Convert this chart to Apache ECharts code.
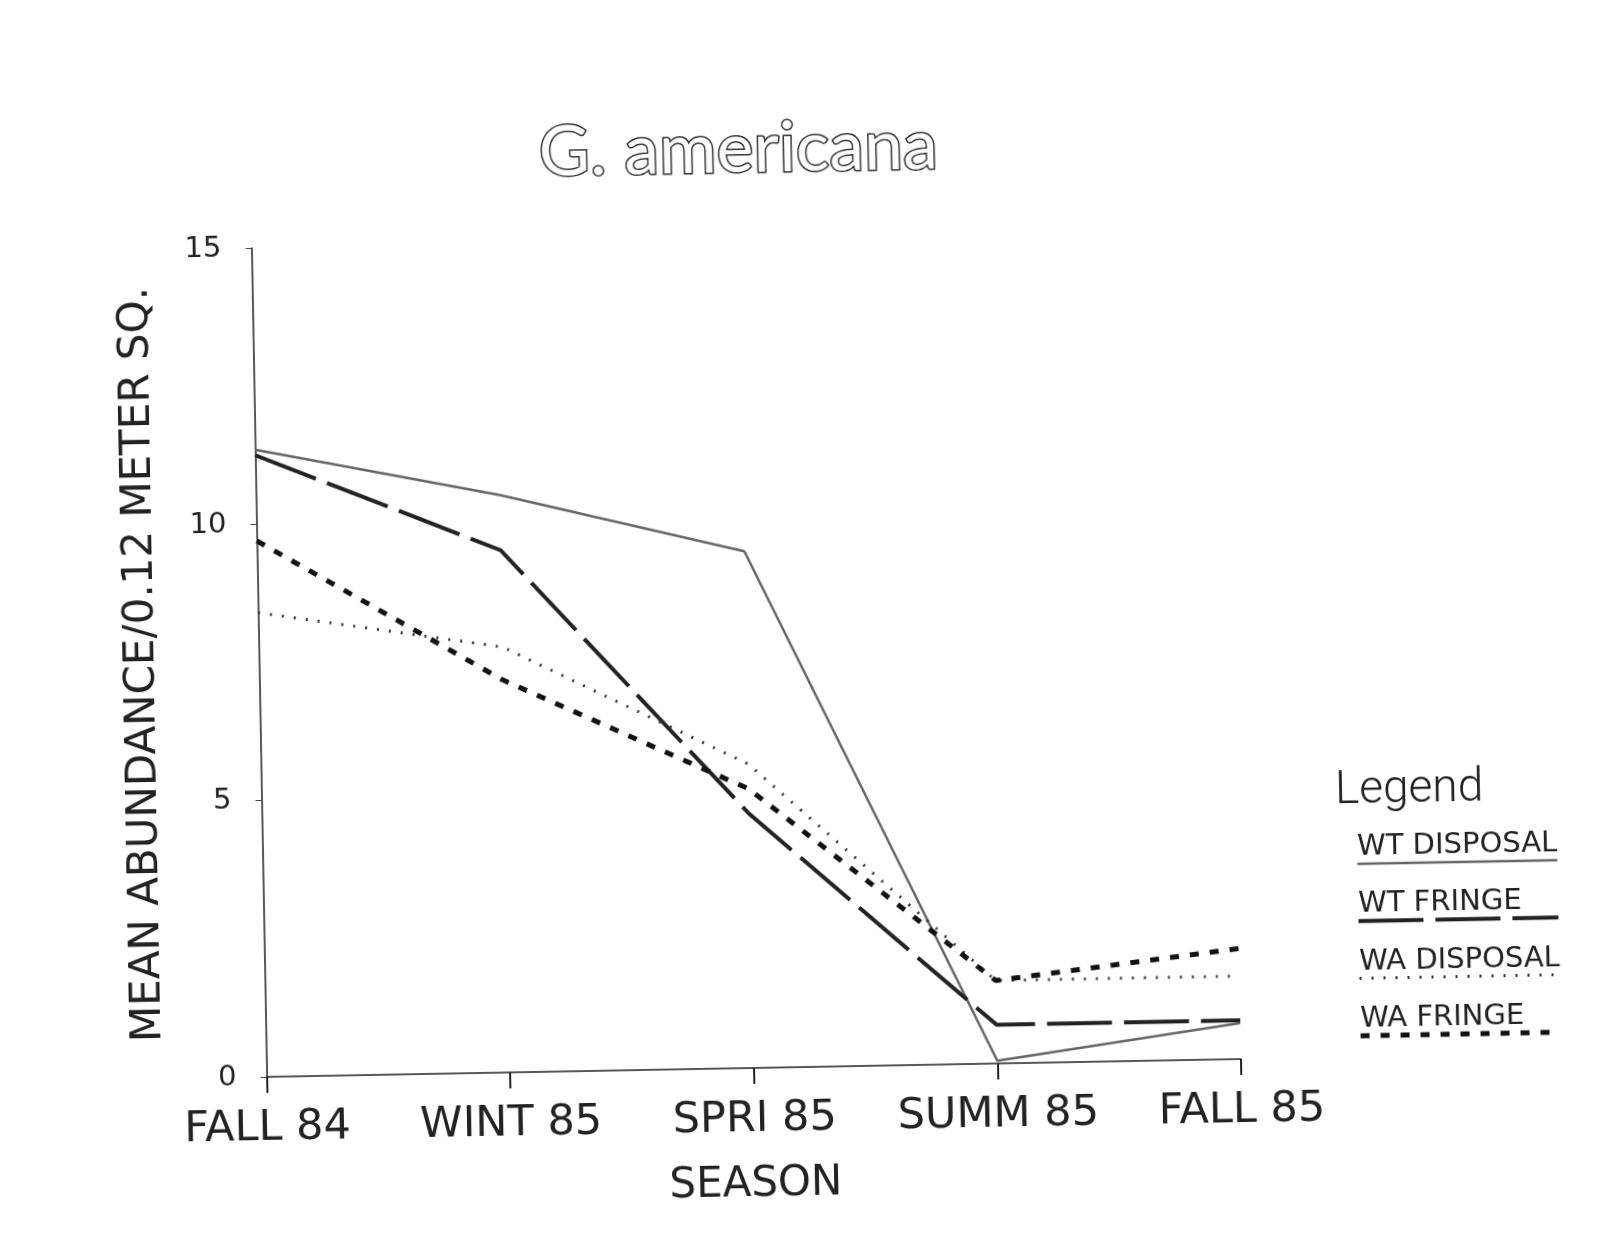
<!DOCTYPE html>
<html><head><meta charset="utf-8">
<script src="https://cdn.jsdelivr.net/npm/echarts@6/dist/echarts.min.js"></script>
<style>
html,body{margin:0;padding:0;background:#fff;overflow:hidden;width:1604px;height:1256px}
#chart{position:absolute;left:0;top:0;width:1604px;height:1256px;transform:rotate(-1.05deg);transform-origin:802px 628px}
</style></head><body><div id="chart"></div>
<script>
// ---- data ----
const categories = ['FALL 84', 'WINT 85', 'SPRI 85', 'SUMM 85', 'FALL 85'];
const seriesNames = ['WT DISPOSAL', 'WT FRINGE', 'WA DISPOSAL', 'WA FRINGE'];
const wtDisposal = [11.35, 10.45, 9.35, 0.05, 0.65];
const wtFringe = [11.25, 9.45, 4.6, 0.7, 0.7];
const waDisposal = [8.4, 7.7, 5.5, 1.5, 1.5];
const waFringe = [9.7, 7.1, 5.05, 1.5, 2.0];
const yMin = 0, yMax = 15, yStep = 5;
const titleText = 'G. americana';
const xName = 'SEASON';
const yName = 'MEAN ABUNDANCE/0.12 METER SQ.';
const legendTitle = 'Legend';

const seriesData = [wtDisposal, wtFringe, waDisposal, waFringe];
const styles = [
  {color: '#666', width: 2.5, type: 'solid'},
  {color: '#222', width: 4, type: [65, 12]},
  {color: '#333', width: 3, type: [2, 10]},
  {color: '#111', width: 5, type: [9, 11]}
];
const FONT = '"DejaVu Sans", sans-serif';

const chart = echarts.init(document.getElementById('chart'), null, {renderer: 'canvas'});

const legendGraphics = [{
  type: 'text', left: 1332, top: 778,
  style: {text: legendTitle, font: '300 46px Roboto, sans-serif', fill: '#222'}
}];
seriesNames.forEach((n, i) => {
  const yText = 860 + 57.3 * i;
  const yLine = 874 + 57.3 * i;
  legendGraphics.push({
    type: 'text', left: 1353, top: yText - 17,
    style: {text: n, font: '29px ' + FONT, fill: '#222'}
  });
  legendGraphics.push({
    type: 'line', shape: {x1: 1353, y1: yLine, x2: 1553, y2: yLine},
    style: {stroke: styles[i].color, lineWidth: styles[i].width,
            lineDash: Array.isArray(styles[i].type) ? styles[i].type : null}
  });
});

chart.setOption({
  animation: false,
  backgroundColor: '#fff',
  title: {
    text: titleText, left: 747, top: 113, textAlign: 'center', padding: 0,
    textStyle: {fontFamily: 'Lato, sans-serif', fontSize: 70, fontWeight: 'normal',
                color: '#fff', textBorderColor: '#333', textBorderWidth: 3}
  },
  grid: {left: 258.5, right: 371, top: 238, bottom: 189, containLabel: false},
  xAxis: {
    type: 'category', data: categories, boundaryGap: false,
    name: xName, nameLocation: 'middle', nameGap: 96,
    nameTextStyle: {fontFamily: FONT, fontSize: 42, color: '#222'},
    axisLine: {lineStyle: {color: '#222', width: 1.5}},
    axisTick: {show: true, length: 16, lineStyle: {color: '#222', width: 2}},
    axisLabel: {fontFamily: FONT, fontSize: 43, color: '#222', margin: 30, interval: 0},
    splitLine: {show: false}
  },
  yAxis: {
    type: 'value', min: yMin, max: yMax, interval: yStep,
    name: yName, nameLocation: 'middle', nameGap: 95, nameRotate: 90,
    nameTextStyle: {fontFamily: FONT, fontSize: 42, color: '#222'},
    axisLine: {show: true, lineStyle: {color: '#222', width: 1.5}},
    axisTick: {show: true, length: 6, lineStyle: {color: '#444', width: 1}},
    axisLabel: {fontFamily: FONT, fontSize: 29, color: '#222', margin: 30},
    splitLine: {show: false}
  },
  graphic: legendGraphics,
  series: seriesNames.map((n, i) => ({
    name: n, type: 'line', data: seriesData[i], showSymbol: false, symbol: 'none',
    lineStyle: {color: styles[i].color, width: styles[i].width, type: styles[i].type},
    itemStyle: {color: styles[i].color}
  }))
});
</script></body></html>
